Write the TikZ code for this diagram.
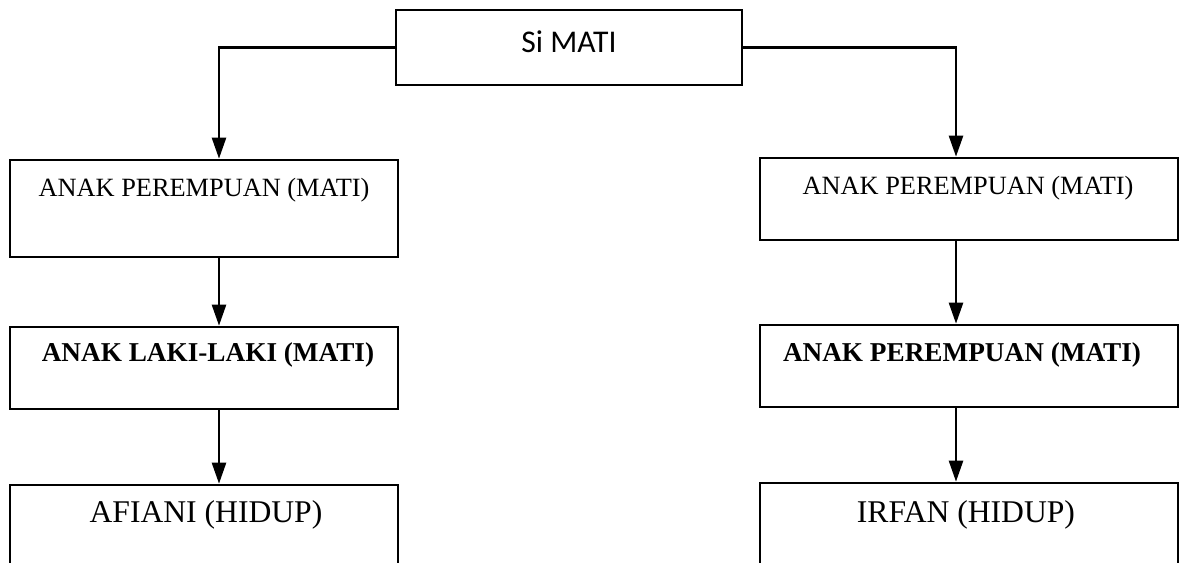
\documentclass[tikz,border=0pt]{standalone}
\usepackage{fontspec}
\setmainfont{Liberation Serif}
\newfontfamily\calibri{Carlito}
\usetikzlibrary{arrows.meta}
\begin{document}
\begin{tikzpicture}
[
 x=0.02cm, y=-0.02cm,
 inner sep=0mm,
 BOX/.style={rectangle, draw=black, line width=1.5pt},
 LEFTBOX/.style={BOX, minimum width=7.76cm},
 RIGHTBOX/.style={BOX, minimum width=8.36cm},
 TXT/.style={font=\fontsize{15}{18}\selectfont},
 BOLDTXT/.style={font=\fontsize{15.5}{18}\selectfont\bfseries},
 BIGTXT/.style={font=\fontsize{18}{22}\selectfont},
 ARROW/.style={line width=1.4pt, -{Triangle[length=12pt,width=8pt]}},
 ]
%
\useasboundingbox (0,0) rectangle (1183,563);
\clip (0,0) rectangle (1183,563);
%
\node [BOX, minimum width=6.92cm, minimum height=1.5cm] (MATI) at (569,47.5) {};
%
\node [LEFTBOX, minimum height=1.94cm]  (AP1)  at (204,208.5) {};
\node [LEFTBOX, minimum height=1.64cm]  (AL)   at (204,368)   {};
\node [LEFTBOX, minimum height=2.30cm]  (AF)   at (204,542.5) {};
%
\node [RIGHTBOX, minimum height=1.64cm] (AP2)  at (969,199)   {};
\node [RIGHTBOX, minimum height=1.64cm] (AP3)  at (969,366)   {};
\node [RIGHTBOX, minimum height=2.34cm] (IR)   at (969,541.5) {};
%
\node [font=\calibri\fontsize{18}{22}\selectfont] (tMATI) at (569,42) {Si MATI};
\node [TXT]      (tAP1)  at (204,190) {ANAK PEREMPUAN (MATI)};
\node [BOLDTXT]  (tAL)   at (208,355) {ANAK LAKI-LAKI (MATI)};
\node [BIGTXT]   (tAF)   at (206,515) {AFIANI (HIDUP)};
\node [TXT]      (tAP2)  at (968,188) {ANAK PEREMPUAN (MATI)};
\node [BOLDTXT]  (tAP3)  at (962,355) {ANAK PEREMPUAN (MATI)};
\node [BIGTXT]   (tIR)   at (966,515) {IRFAN (HIDUP)};
%
\coordinate (colL) at (219,0);
\coordinate (colR) at (956,0);
%
\draw [ARROW]  (MATI.west) -| (colL |- AP1.north);
\draw [ARROW]  (MATI.east) -| (colR |- AP2.north);
%
\draw [ARROW]  (colL |- AP1.south) -- (colL |- AL.north);
\draw [ARROW]  (colL |- AL.south)  -- (colL |- AF.north);
%
\draw [ARROW]  (colR |- AP2.south) -- (colR |- AP3.north);
\draw [ARROW]  (colR |- AP3.south) -- (colR |- IR.north);
%
\end{tikzpicture}
\end{document}
